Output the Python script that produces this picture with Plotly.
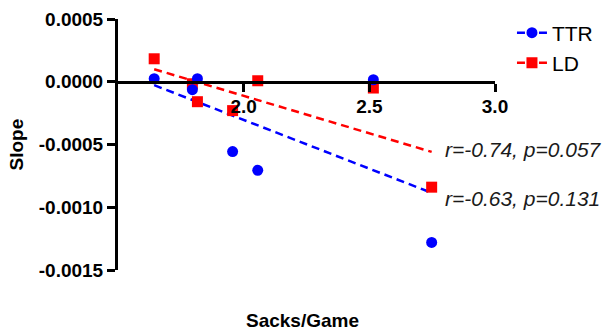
import numpy as np
import plotly.graph_objects as go

# Sacks per game for each team, with the per-team slopes of the two measures
sacks_per_game = [1.644, 1.796, 1.816, 1.956, 2.056, 2.516, 2.748]
ttr_slope = [0.000024, -0.000063, 0.000024, -0.000556, -0.000706, 0.000016, -0.00128]
ld_slope = [0.000183, -0.000016, -0.000159, -0.000230, 0.000008, -0.000050, -0.000840]

y_tick_vals = [0.0005, 0.0, -0.0005, -0.0010, -0.0015]
y_tick_text = ["0.0005", "0.0000", "-0.0005", "-0.0010", "-0.0015"]
x_tick_vals = [2.0, 2.5, 3.0]
x_tick_text = ["2.0", "2.5", "3.0"]

ld_stats = "r=-0.74, p=0.057"
ttr_stats = "r=-0.63, p=0.131"

BLUE = "#0000FF"
RED = "#FF0000"
FONT = "Liberation Sans, Arial, Helvetica, sans-serif"

x = np.array(sacks_per_game)
x_fit = np.array([x.min(), x.max()])


def fit_line(y):
    slope, intercept = np.polyfit(x, np.array(y), 1)
    return slope * x_fit + intercept


fig = go.Figure()

# least-squares regression lines
fig.add_trace(go.Scatter(x=x_fit, y=fit_line(ttr_slope), mode="lines",
                         line=dict(color=BLUE, width=2.5, dash="8px,5px"),
                         showlegend=False, hoverinfo="skip"))
fig.add_trace(go.Scatter(x=x_fit, y=fit_line(ld_slope), mode="lines",
                         line=dict(color=RED, width=2.5, dash="8px,5px"),
                         showlegend=False, hoverinfo="skip"))

# data points
fig.add_trace(go.Scatter(x=sacks_per_game, y=ld_slope, mode="markers",
                         marker=dict(symbol="square", size=11, color=RED),
                         showlegend=False))
fig.add_trace(go.Scatter(x=sacks_per_game, y=ttr_slope, mode="markers",
                         marker=dict(symbol="circle", size=11, color=BLUE),
                         showlegend=False))

# legend entries (line + marker)
fig.add_trace(go.Scatter(x=[None], y=[None], mode="lines+markers", name="TTR",
                         line=dict(color=BLUE, width=2.5, dash="8px,3px"),
                         marker=dict(symbol="circle", size=11, color=BLUE),
                         legend="legend"))
fig.add_trace(go.Scatter(x=[None], y=[None], mode="lines+markers", name="LD",
                         line=dict(color=RED, width=2.5, dash="8px,3px"),
                         marker=dict(symbol="square", size=11, color=RED),
                         legend="legend2"))

legend_common = dict(font=dict(family=FONT, size=21, color="black"),
                     bgcolor="rgba(0,0,0,0)", xanchor="left", yanchor="middle",
                     itemwidth=30)

tick_font = dict(family=FONT, size=19, color="black", weight="bold")

fig.update_layout(
    width=603, height=331,
    margin=dict(l=118, r=108, t=19, b=61, autoexpand=False),
    paper_bgcolor="white", plot_bgcolor="white",
    font=dict(family=FONT, color="black"),
    xaxis=dict(range=[1.5, 3.0], anchor="free", position=0.75,
               showline=True, linecolor="black", linewidth=3,
               ticks="outside", ticklen=8, tickwidth=3, tickcolor="black",
               tickvals=x_tick_vals, ticktext=x_tick_text, tickfont=tick_font,
               ticklabelstandoff=-2,
               showgrid=False, zeroline=False),
    yaxis=dict(range=[-0.0015, 0.0005],
               showline=True, linecolor="black", linewidth=3,
               ticks="outside", ticklen=8, tickwidth=3, tickcolor="black",
               tickvals=y_tick_vals, ticktext=y_tick_text, tickfont=tick_font,
               showgrid=False, zeroline=False),
    legend=dict(x=1.045, y=0.944, **legend_common),
    legend2=dict(x=1.045, y=0.824, **legend_common),
    annotations=[
        dict(text="Sacks/Game", xref="paper", yref="paper", x=0.49, y=-0.2,
             xanchor="center", yanchor="middle", showarrow=False,
             font=dict(family=FONT, size=19, color="black", weight="bold")),
        dict(text="Slope", xref="paper", yref="paper", x=-0.268, y=0.5,
             xanchor="center", yanchor="middle", textangle=-90, showarrow=False,
             font=dict(family=FONT, size=19, color="black", weight="bold")),
        dict(text="<i>" + ld_stats + "</i>", xref="x", yref="y", x=2.795, y=-0.00054,
             xanchor="left", yanchor="middle", showarrow=False,
             font=dict(family=FONT, size=21, color="#1a1a1a")),
        dict(text="<i>" + ttr_stats + "</i>", xref="x", yref="y", x=2.795, y=-0.00093,
             xanchor="left", yanchor="middle", showarrow=False,
             font=dict(family=FONT, size=21, color="#1a1a1a")),
    ],
)

fig.write_html("out.html")
